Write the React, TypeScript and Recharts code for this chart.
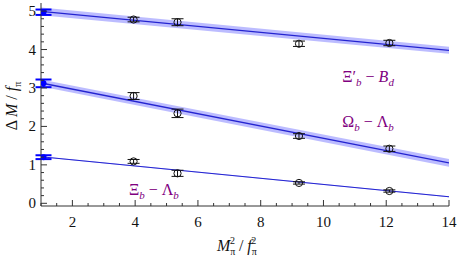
import {
  ComposedChart,
  Line,
  Area,
  Scatter,
  ErrorBar,
  XAxis,
  YAxis,
  ReferenceDot,
} from "recharts";

// chiral fit lines, evaluated at the plot edges
const fitX = [1, 14];
const xiPrimeFit = [4.99, 3.98];
const xiPrimeBand = [0.1, 0.09];
const omegaFit = [3.13, 1.05];
const omegaBand = [0.09, 0.1];
const xiFit = [1.21, 0.17];
const xiBand = [0.015, 0.015];

// lattice ensembles
const latticeX = [3.95, 5.35, 9.22, 12.1];
const xiPrimeVals = [4.78, 4.71, 4.15, 4.17];
const xiPrimeErr = [0.06, 0.09, 0.07, 0.07];
const omegaVals = [2.79, 2.34, 1.75, 1.42];
const omegaErr = [0.09, 0.11, 0.06, 0.07];
const xiVals = [1.09, 0.78, 0.53, 0.32];
const xiErr = [0.05, 0.08, 0.03, 0.03];

// physical point extrapolations
const physX = 1.08;
const physVals = [4.97, 3.12, 1.2];
const physErr = [0.07, 0.1, 0.05];

const xMajor = [2, 4, 6, 8, 10, 12, 14];
const yMajor = [0, 1, 2, 3, 4, 5];
const xTicks = Array.from({ length: 27 }, (_, i) => 1 + i * 0.5);
const yTicks = Array.from({ length: 26 }, (_, i) => Math.round(i * 2) / 10);

const FONT = "Liberation Serif, DejaVu Serif, serif";
const FRAME = "#333";
const PURPLE = "#800080";
const LINE = "#2424d0";
const BAND = "#7a7aff";

const chartData = fitX.map((x, i) => ({
  x,
  xiPrime: xiPrimeFit[i],
  xiPrimeRange: [xiPrimeFit[i] - xiPrimeBand[i], xiPrimeFit[i] + xiPrimeBand[i]],
  omega: omegaFit[i],
  omegaRange: [omegaFit[i] - omegaBand[i], omegaFit[i] + omegaBand[i]],
  xi: xiFit[i],
  xiRange: [xiFit[i] - xiBand[i], xiFit[i] + xiBand[i]],
}));

const latticePoints = latticeX.flatMap((x, i) => [
  { x, y: xiPrimeVals[i], e: xiPrimeErr[i] },
  { x, y: omegaVals[i], e: omegaErr[i] },
  { x, y: xiVals[i], e: xiErr[i] },
]);

const physPoints = physVals.map((y, i) => ({ x: physX, y, e: physErr[i] }));

const isMajor = (list: number[], v: number) =>
  list.some((m) => Math.abs(m - v) < 1e-6);

const textStyle = { fontFamily: FONT };

const BottomTick = ({ x, y, payload }: any) => {
  const major = isMajor(xMajor, payload.value);
  return (
    <g>
      <line x1={x} x2={x} y1={y} y2={y - (major ? 6 : 3)} stroke={FRAME} />
      {major && (
        <text x={x} y={y + 21} textAnchor="middle" style={textStyle} fontSize={15} fill="#111">
          {payload.value}
        </text>
      )}
    </g>
  );
};

const TopTick = ({ x, y, payload }: any) => {
  const major = isMajor(xMajor, payload.value);
  return <line x1={x} x2={x} y1={y} y2={y + (major ? 6 : 3)} stroke={FRAME} />;
};

const LeftTick = ({ x, y, payload }: any) => {
  const major = isMajor(yMajor, payload.value);
  return (
    <g>
      <line x1={x} x2={x + (major ? 6 : 3)} y1={y} y2={y} stroke={FRAME} />
      {major && (
        <text x={x - 5} y={y + 5} textAnchor="end" style={textStyle} fontSize={15} fill="#111">
          {payload.value}
        </text>
      )}
    </g>
  );
};

const RightTick = ({ x, y, payload }: any) => {
  const major = isMajor(yMajor, payload.value);
  return <line x1={x} x2={x - (major ? 6 : 3)} y1={y} y2={y} stroke={FRAME} />;
};

const OpenCircle = ({ cx, cy }: any) => (
  <circle cx={cx} cy={cy} r={3.6} fill="none" stroke="#111" strokeWidth={1} />
);

const BlueDot = ({ cx, cy }: any) => (
  <circle cx={cx} cy={cy} r={3} fill="#0000ff" />
);

const XTitle = () => (
  <text x={217} y={251} style={textStyle} fontSize={16} fill="#111">
    <tspan fontStyle="italic">M</tspan>
    <tspan fontSize={10} dy={4}>π</tspan>
    <tspan fontSize={10} dx={-5.5} dy={-11}>2</tspan>
    <tspan dy={7}> / </tspan>
    <tspan fontStyle="italic">f</tspan>
    <tspan fontSize={10} dy={4}>π</tspan>
    <tspan fontSize={10} dx={-5.5} dy={-11}>2</tspan>
  </text>
);

const YTitle = () => (
  <text
    transform="translate(17,106) rotate(-90)"
    textAnchor="middle"
    style={textStyle}
    fontSize={16}
    fill="#111"
  >
    <tspan>Δ </tspan>
    <tspan fontStyle="italic">M</tspan>
    <tspan> / </tspan>
    <tspan fontStyle="italic">f</tspan>
    <tspan fontSize={10} dy={4}>π</tspan>
  </text>
);

const Tag = ({ viewBox, parts }: any) => {
  const { cx, cy, x, y } = viewBox || {};
  const px = cx ?? x;
  const py = cy ?? y;
  return (
    <text x={px} y={py} style={textStyle} fontSize={16} fill={PURPLE}>
      {parts}
    </text>
  );
};

const xiPrimeTag = (
  <>
    <tspan>Ξ′</tspan>
    <tspan fontSize={11} fontStyle="italic" dy={4}>b</tspan>
    <tspan dy={-4}> − </tspan>
    <tspan fontStyle="italic">B</tspan>
    <tspan fontSize={11} fontStyle="italic" dy={4}>d</tspan>
  </>
);

const omegaTag = (
  <>
    <tspan>Ω</tspan>
    <tspan fontSize={11} fontStyle="italic" dy={4}>b</tspan>
    <tspan dy={-4}> − Λ</tspan>
    <tspan fontSize={11} fontStyle="italic" dy={4}>b</tspan>
  </>
);

const xiTag = (
  <>
    <tspan>Ξ</tspan>
    <tspan fontSize={11} fontStyle="italic" dy={4}>b</tspan>
    <tspan dy={-4}> − Λ</tspan>
    <tspan fontSize={11} fontStyle="italic" dy={4}>b</tspan>
  </>
);

export default function App() {
  return (
    <div style={{ position: "absolute", left: 0, top: 0, background: "#fff" }}>
      <ComposedChart
        width={457}
        height={262}
        data={chartData}
        margin={{ top: 3, right: 8, bottom: 0, left: 0 }}
      >
        <XAxis
          dataKey="x"
          type="number"
          domain={[1, 14]}
          ticks={xTicks}
          interval={0}
          tick={<BottomTick />}
          tickLine={false}
          tickSize={0}
          tickMargin={0}
          axisLine={{ stroke: FRAME }}
          height={56}
          allowDataOverflow
          label={<XTitle />}
        />
        <XAxis
          xAxisId="top"
          dataKey="x"
          type="number"
          orientation="top"
          domain={[1, 14]}
          ticks={xTicks}
          interval={0}
          tick={<TopTick />}
          tickLine={false}
          tickSize={0}
          tickMargin={0}
          axisLine={{ stroke: FRAME }}
          height={0}
          allowDataOverflow
        />
        <YAxis
          type="number"
          domain={[-0.07, 5.21]}
          ticks={yTicks}
          interval={0}
          tick={<LeftTick />}
          tickLine={false}
          tickSize={0}
          tickMargin={0}
          axisLine={{ stroke: FRAME }}
          width={41}
          allowDataOverflow
          label={<YTitle />}
        />
        <YAxis
          yAxisId="right"
          type="number"
          orientation="right"
          domain={[-0.07, 5.21]}
          ticks={yTicks}
          interval={0}
          tick={<RightTick />}
          tickLine={false}
          tickSize={0}
          tickMargin={0}
          axisLine={{ stroke: FRAME }}
          width={0}
          allowDataOverflow
        />

        <Area type="linear" dataKey="xiPrimeRange" stroke="none" fill={BAND} fillOpacity={0.5} isAnimationActive={false} />
        <Area type="linear" dataKey="omegaRange" stroke="none" fill={BAND} fillOpacity={0.5} isAnimationActive={false} />
        <Area type="linear" dataKey="xiRange" stroke="none" fill={BAND} fillOpacity={0.5} isAnimationActive={false} />

        <Line type="linear" dataKey="xiPrime" stroke={LINE} strokeWidth={1.3} dot={false} isAnimationActive={false} />
        <Line type="linear" dataKey="omega" stroke={LINE} strokeWidth={1.3} dot={false} isAnimationActive={false} />
        <Line type="linear" dataKey="xi" stroke={LINE} strokeWidth={1.1} dot={false} isAnimationActive={false} />

        <Scatter data={latticePoints} dataKey="y" shape={<OpenCircle />} isAnimationActive={false}>
          <ErrorBar dataKey="e" direction="y" width={6} stroke="#111" strokeWidth={1} />
        </Scatter>
        <Scatter data={physPoints} dataKey="y" shape={<BlueDot />} isAnimationActive={false}>
          <ErrorBar dataKey="e" direction="y" width={8} stroke="#0000ff" strokeWidth={2} />
        </Scatter>

        <ReferenceDot x={10.6} y={3.16} r={0} fill="none" stroke="none" label={<Tag parts={xiPrimeTag} />} />
        <ReferenceDot x={10.6} y={1.98} r={0} fill="none" stroke="none" label={<Tag parts={omegaTag} />} />
        <ReferenceDot x={3.8} y={0.22} r={0} fill="none" stroke="none" label={<Tag parts={xiTag} />} />
      </ComposedChart>
    </div>
  );
}
